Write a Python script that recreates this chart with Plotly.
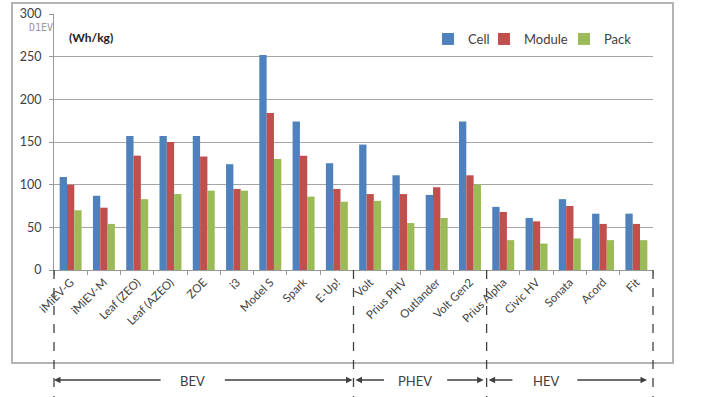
import plotly.graph_objects as go

categories = ["iMiEV-G", "iMiEV-M", "Leaf (ZEO)", "Leaf (AZEO)", "ZOE", "i3", "Model S", "Spark", "E-Up!",
              "Volt", "Prius PHV", "Outlander", "Volt Gen2",
              "Prius Alpha", "Civic HV", "Sonata", "Acord", "Fit"]
cell = [109, 87, 157, 157, 157, 124, 252, 174, 125, 147, 111, 88, 174, 74, 61, 83, 66, 66]
module = [100, 73, 134, 150, 133, 95, 184, 134, 95, 89, 89, 97, 111, 68, 57, 75, 54, 54]
pack = [70, 54, 83, 89, 93, 93, 130, 86, 80, 81, 55, 61, 100, 35, 31, 37, 35, 35]
series_names = ["Cell", "Module", "Pack"]
colors = ["#4F81BD", "#C0504D", "#9BBB59"]
groups = [("BEV", 0, 9), ("PHEV", 9, 13), ("HEV", 13, 18)]

FONT = "Lato, Open Sans, sans-serif"
TXT = "#404040"

fig = go.Figure()
for i, (name, vals) in enumerate(zip(series_names, [cell, module, pack])):
    fig.add_trace(go.Bar(x=categories, y=vals, name=name, marker_color=colors[i],
                         marker_line_width=0, showlegend=True,
                         legend="legend" if i == 0 else f"legend{i+1}"))

n = len(categories)
# body margin is removed by post_script; plot area on screen is x 54..653, y 14..270
SX0, SX1, SY0, SY1 = 54, 653, 14, 270
W, H = 720, 397
L, T = SX0, SY0
R, B = W - SX1, H - SY1
pw, ph = SX1 - SX0, SY1 - SY0

def px_x(px):
    return (px - SX0) / pw

def px_y(py):
    return (SY1 - py) / ph

shapes = []
# outer frame
shapes.append(dict(type="rect", xref="paper", yref="paper",
                   x0=px_x(12), x1=px_x(673), y0=px_y(363), y1=px_y(3),
                   line=dict(color="#b4b4b4", width=2), layer="below"))
# dashed group separators
bounds = sorted(set([g[1] for g in groups] + [g[2] for g in groups]))
for b in bounds:
    xp = b / n
    shapes.append(dict(type="line", xref="paper", yref="paper", x0=xp, x1=xp,
                       y0=0, y1=px_y(397), line=dict(color="#404040", width=1.3, dash="dash")))

annotations = []
arrow_y = px_y(380)
# group labels and arrows (positions in category index units: head, tail)
arrow_specs = [
    ("BEV", 3.65, [(-0.5, 2.75), (8.47, 4.59)]),
    ("PHEV", 10.34, [(8.56, 9.46), (12.41, 11.27)]),
    ("HEV", 14.28, [(12.56, 13.32), (17.32, 15.18)]),
]
for label, cx, arrows in arrow_specs:
    annotations.append(dict(text=label, x=(cx + 0.5) / n, y=px_y(381), xref="paper", yref="paper",
                            xanchor="center", yanchor="middle",
                            showarrow=False, font=dict(family=FONT, size=13, color=TXT)))
    for head, tail in arrows:
        hx = (head + 0.5) / n
        tx = (tail + 0.5) / n
        annotations.append(dict(text="", x=hx, y=arrow_y, xref="paper", yref="paper",
                                ax=(tx - hx) * pw, ay=0, axref="pixel", ayref="pixel",
                                showarrow=True, arrowhead=2, arrowsize=1, arrowwidth=1.3,
                                arrowcolor="#404040", standoff=0, startstandoff=0))

annotations.append(dict(text="<b>(Wh/kg)</b>", x=px_x(67), y=px_y(37), xref="paper", yref="paper",
                        xanchor="left", yanchor="middle", showarrow=False,
                        font=dict(family=FONT, size=12, color="#222")))
annotations.append(dict(text="D1EV", x=px_x(27), y=px_y(27), xref="paper", yref="paper",
                        xanchor="left", yanchor="middle", showarrow=False,
                        font=dict(family="DejaVu Sans Mono, monospace", size=10, color="#999")))

leg_common = dict(orientation="h", bgcolor="rgba(0,0,0,0)", borderwidth=0,
                  font=dict(family=FONT, size=13, color=TXT), yanchor="middle",
                  y=px_y(39), xanchor="left")
leg_x = [428, 484, 564]

fig.update_layout(
    width=W, height=H,
    margin=dict(l=L, r=R, t=T, b=B, autoexpand=False),
    paper_bgcolor="white", plot_bgcolor="white",
    barmode="group", bargap=0.34, bargroupgap=0,
    font=dict(family=FONT, color=TXT),
    showlegend=True,
    shapes=shapes, annotations=annotations,
    legend=dict(**leg_common, x=px_x(leg_x[0])),
    legend2=dict(**leg_common, x=px_x(leg_x[1])),
    legend3=dict(**leg_common, x=px_x(leg_x[2])),
    xaxis=dict(type="category", tickangle=-45, tickfont=dict(family=FONT, size=11.5, color=TXT),
               showline=True, linecolor="#999", linewidth=1.2, ticks="outside",
               tickson="boundaries", ticklen=4, tickcolor="#999", showgrid=False),
    yaxis=dict(range=[0, 300], dtick=50, showgrid=True, gridcolor="#a6a6a6", gridwidth=1.2,
               showline=True, linecolor="#999", linewidth=1.2, ticks="outside", ticklen=4,
               tickcolor="#999", ticklabelstandoff=5, ticklabeloverflow="allow",
               tickfont=dict(family=FONT, size=12.5, color=TXT), zeroline=False),
)

fig.write_html("out.html", config={"displayModeBar": False},
               post_script="document.body.style.margin='0px';")
